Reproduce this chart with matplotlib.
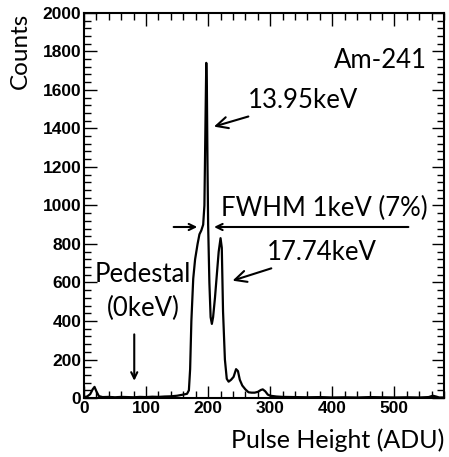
import numpy as np
import matplotlib
matplotlib.use("Agg")
import matplotlib.pyplot as plt
from matplotlib.ticker import MultipleLocator

# spectrum (pulse height in ADU, counts)
adu = [0, 5, 10, 14, 17, 20, 24, 30, 40, 50, 60, 70, 80, 90, 100, 110, 120,
       130, 140, 150, 160, 166, 169, 171, 173, 176, 179, 183, 186, 189, 192,
       194, 196, 197, 198, 199, 200, 202, 204, 206, 208, 211, 214, 217, 220,
       222, 224, 227, 230, 233, 237, 241, 245, 248, 251, 255, 260, 265, 270,
       275, 280, 285, 288, 292, 296, 300, 310, 320, 340, 360, 380, 400, 420,
       440, 460, 480, 500, 520, 540, 555, 562, 567, 572, 580]
counts = [5, 8, 20, 45, 58, 35, 10, 5, 6, 4, 6, 5, 4, 6, 5, 7, 6,
          8, 9, 12, 18, 22, 40, 150, 400, 620, 720, 800, 850, 870, 900,
          1000, 1500, 1740, 1600, 1200, 900, 600, 420, 385, 420, 520, 640, 760, 830,
          780, 450, 200, 100, 85, 95, 110, 150, 140, 95, 65, 45, 30, 28,
          28, 32, 42, 45, 35, 18, 12, 8, 6, 5, 4, 5, 3, 4,
          3, 5, 4, 3, 4, 3, 5, 12, 8, 3, 3]

x_ticks = [0, 100, 200, 300, 400, 500]
y_ticks = [0, 200, 400, 600, 800, 1000, 1200, 1400, 1600, 1800, 2000]

label_font = "Lato"


def main():
    fig = plt.figure(figsize=(4.49, 4.57), dpi=100)
    ax = fig.add_axes([0.187, 0.129, 0.802, 0.843])

    ax.plot(adu, counts, color="black", lw=1.6)

    ax.set_xlim(0, 580)
    ax.set_ylim(0, 2000)
    ax.set_xticks(x_ticks)
    ax.set_yticks(y_ticks)
    ax.xaxis.set_minor_locator(MultipleLocator(20))
    ax.yaxis.set_minor_locator(MultipleLocator(40))
    ax.tick_params(which="both", direction="in", top=True, right=True,
                   width=1.0, labelsize=12.5)
    ax.tick_params(which="major", length=9, pad=2)
    ax.tick_params(which="minor", length=5)
    for lab in ax.get_xticklabels() + ax.get_yticklabels():
        lab.set_fontweight("bold")
        lab.set_fontfamily("Liberation Sans")
    for sp in ax.spines.values():
        sp.set_linewidth(1.5)

    ax.set_ylabel("Counts", fontsize=17.5, family=label_font, loc="top", labelpad=8)
    ax.set_xlabel("Pulse Height (ADU)", fontsize=18, family=label_font, loc="right", labelpad=9)

    txt = dict(fontsize=18.5, family=label_font, color="black")
    arr = dict(arrowstyle="->,head_length=0.45,head_width=0.22", color="black", lw=1.5)

    ax.text(553, 1750, "Am-241", ha="right", va="center", **txt)

    ax.annotate("13.95keV", xy=(205, 1405), xytext=(264, 1545),
                ha="left", va="center", arrowprops=arr, **txt)

    ax.annotate("17.74keV", xy=(235, 605), xytext=(295, 757),
                ha="left", va="center", arrowprops=arr, **txt)

    # FWHM arrows
    ax.annotate("", xy=(187, 888), xytext=(140, 888), arrowprops=arr)
    ax.annotate("", xy=(205, 888), xytext=(527, 888), arrowprops=arr)
    ax.text(221, 985, "FWHM 1keV (7%)", ha="left", va="center", **txt)

    ax.text(95, 640, "Pedestal", ha="center", va="center", **txt)
    ax.text(95, 465, "(0keV)", ha="center", va="center", **txt)
    ax.annotate("", xy=(81, 75), xytext=(81, 345), arrowprops=arr)

    fig.savefig("out.png", dpi=100)


if __name__ == "__main__":
    main()
